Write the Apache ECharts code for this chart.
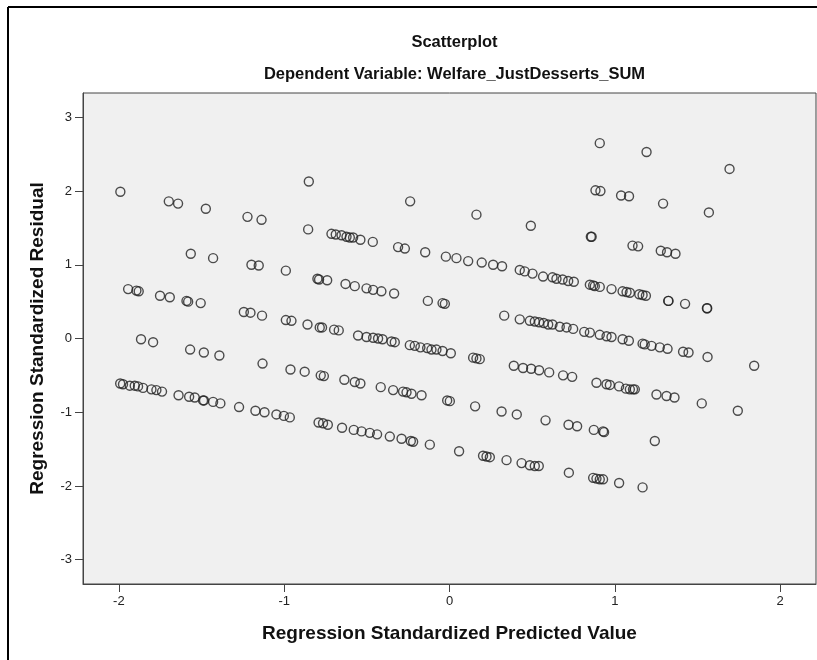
<!DOCTYPE html>
<html>
<head>
<meta charset="utf-8">
<script src="https://cdn.jsdelivr.net/npm/echarts@6/dist/echarts.min.js"></script>
<style>
html,body{margin:0;padding:0;background:#fff;}
#chart{width:817px;height:660px;}
</style>
</head>
<body>
<div id="chart"></div>
<script>
const titleText = 'Scatterplot';
const subtitleText = 'Dependent Variable: Welfare_JustDesserts_SUM';
const xAxisTitle = 'Regression Standardized Predicted Value';
const yAxisTitle = 'Regression Standardized Residual';
const xTicks = [-2, -1, 0, 1, 2];
const yTicks = [-3, -2, -1, 0, 1, 2, 3];

const predicted = [
-1.991,-1.698,-1.642,-1.474,-1.222,-1.137,-0.851,-0.238,0.163,0.492,0.883,0.913,1.038,1.086,1.292,1.569,0.909,1.192,1.694,0.855,0.860,1.107,1.141,1.278,1.316,1.367,
-0.855,-0.714,-0.688,-0.653,-0.623,-0.603,-0.583,-0.539,-0.464,-0.311,-0.270,-0.147,-0.022,0.042,0.113,0.195,0.264,0.318,0.425,0.455,0.502,0.566,0.623,0.647,0.684,0.718,0.752,0.849,0.869,0.879,0.909,0.980,1.047,1.071,1.091,1.148,1.168,1.188,1.323,1.325,1.425,1.557,1.559,
-1.565,-1.430,-1.198,-1.154,-0.990,-0.799,-0.789,-0.740,-0.629,-0.573,-0.502,-0.462,-0.412,-0.335,-0.131,-0.042,-0.028,0.331,0.425,0.486,0.516,0.542,0.570,0.597,0.623,0.667,0.708,0.748,0.815,0.849,0.909,0.950,0.980,1.047,1.085,1.168,1.181,1.222,1.272,1.319,1.413,1.446,1.561,1.843,
-1.944,-1.894,-1.880,-1.751,-1.692,-1.591,-1.581,-1.505,-1.244,-1.204,-1.134,-0.990,-0.956,-0.859,-0.785,-0.771,-0.698,-0.670,-0.553,-0.502,-0.462,-0.432,-0.405,-0.351,-0.331,-0.240,-0.210,-0.176,-0.135,-0.109,-0.079,-0.042,0.008,0.143,0.163,0.183,0.389,0.445,0.494,0.542,0.603,0.687,0.742,0.889,0.950,0.970,1.026,1.067,1.091,1.121,1.110,1.252,1.313,1.361,1.526,1.744,
-1.866,-1.793,-1.569,-1.486,-1.392,-1.131,-0.962,-0.876,-0.779,-0.760,-0.636,-0.573,-0.539,-0.416,-0.341,-0.281,-0.260,-0.230,-0.169,-0.014,0.002,0.155,0.315,0.407,0.581,0.720,0.772,0.873,0.929,0.935,1.242,
-1.992,-1.975,-1.934,-1.904,-1.884,-1.854,-1.803,-1.773,-1.739,-1.639,-1.575,-1.541,-1.491,-1.485,-1.430,-1.386,-1.273,-1.174,-1.119,-1.047,-1.002,-0.966,-0.792,-0.765,-0.736,-0.650,-0.579,-0.532,-0.482,-0.438,-0.361,-0.290,-0.234,-0.220,-0.119,0.058,0.203,0.224,0.244,0.345,0.436,0.486,0.516,0.540,0.722,0.869,0.889,0.909,0.929,1.026,1.168
];
const residual = [
1.99,1.86,1.83,1.76,1.65,1.61,2.13,1.86,1.68,1.53,2.01,2.00,1.94,1.93,1.83,1.71,2.65,2.53,2.30,1.38,1.38,1.26,1.25,1.19,1.17,1.15,
1.48,1.42,1.41,1.40,1.38,1.37,1.37,1.34,1.31,1.24,1.22,1.17,1.11,1.09,1.05,1.03,1.00,0.98,0.93,0.91,0.88,0.84,0.83,0.81,0.80,0.78,0.77,0.73,0.72,0.71,0.70,0.67,0.64,0.63,0.62,0.60,0.59,0.58,0.51,0.51,0.47,0.41,0.41,
1.15,1.09,1.00,0.99,0.92,0.81,0.80,0.79,0.74,0.71,0.68,0.66,0.64,0.61,0.51,0.48,0.47,0.31,0.26,0.24,0.23,0.22,0.21,0.19,0.19,0.16,0.15,0.13,0.09,0.08,0.05,0.03,0.02,-0.01,-0.03,-0.07,-0.08,-0.10,-0.12,-0.14,-0.18,-0.19,-0.25,-0.37,
0.67,0.65,0.64,0.58,0.56,0.51,0.50,0.48,0.36,0.35,0.31,0.25,0.24,0.19,0.15,0.15,0.12,0.11,0.04,0.02,0.01,0.00,-0.01,-0.04,-0.05,-0.09,-0.10,-0.12,-0.13,-0.15,-0.15,-0.17,-0.20,-0.26,-0.27,-0.28,-0.37,-0.40,-0.41,-0.43,-0.46,-0.50,-0.52,-0.60,-0.62,-0.63,-0.65,-0.68,-0.69,-0.69,-0.69,-0.76,-0.78,-0.80,-0.88,-0.98,
-0.01,-0.05,-0.15,-0.19,-0.23,-0.34,-0.42,-0.45,-0.50,-0.51,-0.56,-0.59,-0.61,-0.66,-0.70,-0.72,-0.73,-0.75,-0.77,-0.84,-0.85,-0.92,-0.99,-1.03,-1.11,-1.17,-1.19,-1.24,-1.26,-1.27,-1.39,
-0.61,-0.62,-0.64,-0.64,-0.65,-0.67,-0.69,-0.70,-0.72,-0.77,-0.79,-0.80,-0.84,-0.84,-0.86,-0.88,-0.93,-0.98,-1.00,-1.03,-1.05,-1.07,-1.14,-1.15,-1.17,-1.21,-1.24,-1.26,-1.28,-1.30,-1.33,-1.36,-1.39,-1.40,-1.44,-1.53,-1.59,-1.60,-1.61,-1.65,-1.69,-1.72,-1.73,-1.73,-1.82,-1.89,-1.90,-1.91,-1.91,-1.96,-2.02
];

const points = predicted.map((x, i) => [x, residual[i]]);

const chart = echarts.init(document.getElementById('chart'), null, {renderer: 'canvas'});
const font = '"Liberation Sans", Arial, sans-serif';
chart.setOption({
  animation: false,
  backgroundColor: '#ffffff',
  title: [
    {text: titleText, left: 449.5, top: 29, textAlign: 'center',
     textStyle: {fontFamily: font, fontSize: 16.5, fontWeight: 'bold', color: '#111'}},
    {text: subtitleText, left: 449.5, top: 61, textAlign: 'center',
     textStyle: {fontFamily: font, fontSize: 16.5, fontWeight: 'bold', color: '#111'}}
  ],
  graphic: [
    {type: 'line', shape: {x1: 8, y1: 7, x2: 817, y2: 7}, style: {stroke: '#000', lineWidth: 2}},
    {type: 'line', shape: {x1: 8, y1: 7, x2: 8, y2: 660}, style: {stroke: '#000', lineWidth: 2}}
  ],
  grid: {left: 83, top: 93, width: 733, height: 491, show: true,
         backgroundColor: '#f0f0f0', borderColor: '#444', borderWidth: 1, containLabel: false},
  xAxis: {
    type: 'value', min: -2.217, max: 2.217,
    name: xAxisTitle, nameLocation: 'middle', nameGap: 40,
    nameTextStyle: {fontFamily: font, fontSize: 19, fontWeight: 'bold', color: '#111'},
    axisLine: {show: true, onZero: false, lineStyle: {color: '#444', width: 1}},
    axisTick: {show: true, inside: false, length: 8, customValues: xTicks, lineStyle: {color: '#444'}},
    axisLabel: {show: true, margin: 11, customValues: xTicks, fontFamily: font, fontSize: 13, color: '#222'},
    splitLine: {show: false}
  },
  yAxis: {
    type: 'value', min: -3.33, max: 3.33,
    name: yAxisTitle, nameLocation: 'middle', nameGap: 36,
    nameTextStyle: {fontFamily: font, fontSize: 19, fontWeight: 'bold', color: '#111'},
    axisLine: {show: true, onZero: false, lineStyle: {color: '#444', width: 1}},
    axisTick: {show: true, inside: false, length: 8, customValues: yTicks, lineStyle: {color: '#444'}},
    axisLabel: {show: true, margin: 11, customValues: yTicks, fontFamily: font, fontSize: 13, color: '#222'},
    splitLine: {show: false}
  },
  series: [{
    type: 'scatter',
    data: points,
    symbol: 'circle',
    symbolSize: 9,
    itemStyle: {color: 'rgba(0,0,0,0)', borderColor: '#222', borderWidth: 1.4},
    emphasis: {disabled: true}
  }]
});
</script>
</body>
</html>
